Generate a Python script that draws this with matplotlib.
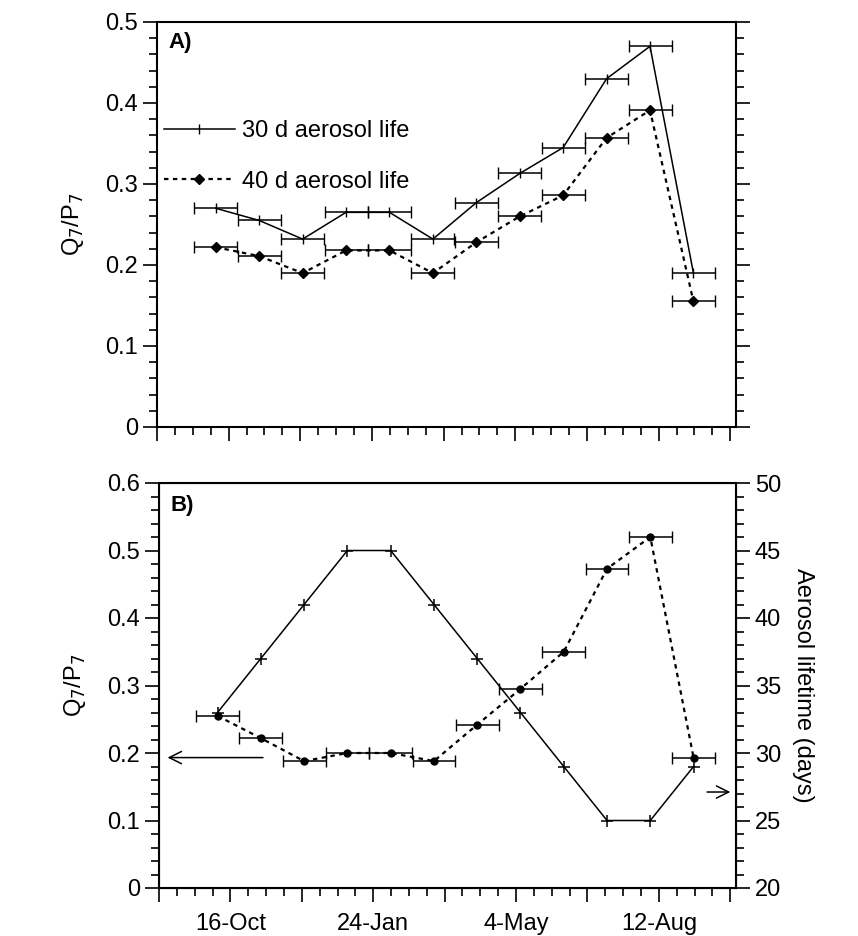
import numpy as np
import matplotlib.pyplot as plt
from matplotlib.ticker import MultipleLocator
from matplotlib.lines import Line2D

plt.rcParams['font.family'] = ['Liberation Sans', 'DejaVu Sans']

# days after 16-Oct
days = np.array([-9, 21.3, 51.6, 81.9, 112.2, 142.5, 172.8, 203.1, 233.4, 263.7, 294, 324.3])
xerr = 15
tick_days = [0, 100, 200, 300]
tick_labels = ['16-Oct', '24-Jan', '4-May', '12-Aug']

a_30d = [0.27, 0.255, 0.232, 0.265, 0.265, 0.232, 0.277, 0.313, 0.345, 0.43, 0.47, 0.19]
a_40d = [0.222, 0.211, 0.19, 0.218, 0.218, 0.19, 0.228, 0.26, 0.286, 0.357, 0.391, 0.155]
b_ratio = [0.255, 0.222, 0.188, 0.2, 0.2, 0.188, 0.242, 0.295, 0.35, 0.473, 0.52, 0.193]
b_life = [33, 37, 41, 45, 45, 41, 37, 33, 29, 25, 25, 29]

fig = plt.figure(figsize=(8.58, 9.36), dpi=100)
W, H = 858, 936
axA = fig.add_axes([157 / W, 1 - 427 / H, 579 / W, 405 / H])
axB = fig.add_axes([159 / W, 1 - 888 / H, 577 / W, 405 / H])

FS = 17


def style_x(ax, show_labels):
    ax.set_xlim(-46, 354)
    major = np.arange(-50, 351, 50)
    labels = []
    for d in major:
        if show_labels and d in tick_days:
            labels.append(tick_labels[tick_days.index(d)])
        else:
            labels.append('')
    ax.set_xticks(major, labels)
    ax.xaxis.set_minor_locator(MultipleLocator(12.5))
    ax.tick_params(axis='x', which='major', length=10, width=1.2, labelsize=FS, pad=8)
    ax.tick_params(axis='x', which='minor', length=6, width=1.2)


for ax in (axA, axB):
    for s in ax.spines.values():
        s.set_linewidth(1.5)
    ax.tick_params(axis='y', which='major', length=10, width=1.2, labelsize=FS)
    ax.tick_params(axis='y', which='minor', length=6, width=1.2)

# Panel A
axA.errorbar(days, a_30d, xerr=xerr, color='black', lw=1.1, marker='|', ms=7,
             capsize=4, elinewidth=1.1)
axA.errorbar(days, a_40d, xerr=xerr, color='black', lw=1.6, ls=(0, (2, 2)), marker='D', ms=5,
             capsize=4, elinewidth=1.1)
axA.set_ylim(0, 0.5)
axA.set_yticks([0, 0.1, 0.2, 0.3, 0.4, 0.5], ['0', '0.1', '0.2', '0.3', '0.4', '0.5'])
axA.yaxis.set_minor_locator(MultipleLocator(0.02))
axA.tick_params(axis='y', which='both', right=True)
style_x(axA, False)
axA.set_ylabel('Q$_7$/P$_7$', fontsize=17, labelpad=14)
axA.text(0.02, 0.975, 'A)', transform=axA.transAxes, fontsize=16, fontweight='bold', va='top')
handles = [Line2D([], [], color='black', lw=1.1, marker='|', ms=7),
           Line2D([], [], color='black', lw=1.6, ls=(0, (2, 2)), marker='D', ms=5)]
axA.legend(handles, ['30 d aerosol life', '40 d aerosol life'], loc='upper left',
           bbox_to_anchor=(-0.025, 0.81), frameon=False, fontsize=FS, numpoints=1,
           handlelength=3.0, labelspacing=1.2, handletextpad=0.3)

# Panel B
axB.errorbar(days, b_ratio, xerr=xerr, color='black', lw=1.6, ls=(0, (2, 2)), marker='o', ms=5,
             capsize=4, elinewidth=1.1)
axB.set_ylim(0, 0.6)
axB.set_yticks(np.arange(0, 0.61, 0.1), ['0', '0.1', '0.2', '0.3', '0.4', '0.5', '0.6'])
axB.yaxis.set_minor_locator(MultipleLocator(0.02))
style_x(axB, True)
axB.set_ylabel('Q$_7$/P$_7$', fontsize=17, labelpad=14)
axB.text(0.02, 0.97, 'B)', transform=axB.transAxes, fontsize=16, fontweight='bold', va='top')

axR = axB.twinx()
axR.plot(days, b_life, color='black', lw=1.1, marker='+', ms=8, mew=1.1)
axR.set_ylim(20, 50)
axR.yaxis.set_major_locator(MultipleLocator(5))
axR.yaxis.set_minor_locator(MultipleLocator(1))
axR.tick_params(axis='y', which='major', length=10, width=1.2, labelsize=FS)
axR.tick_params(axis='y', which='minor', length=6, width=1.2)
axR.set_ylabel('Aerosol lifetime (days)', fontsize=17, rotation=270, labelpad=24)

axB.annotate('', xy=(0.01, 0.322), xytext=(0.185, 0.322), xycoords='axes fraction',
             arrowprops=dict(arrowstyle='->', lw=1.1, mutation_scale=22))
axB.annotate('', xy=(0.995, 0.237), xytext=(0.945, 0.237), xycoords='axes fraction',
             arrowprops=dict(arrowstyle='->', lw=1.1, mutation_scale=22))

fig.savefig('out.png', dpi=100)
